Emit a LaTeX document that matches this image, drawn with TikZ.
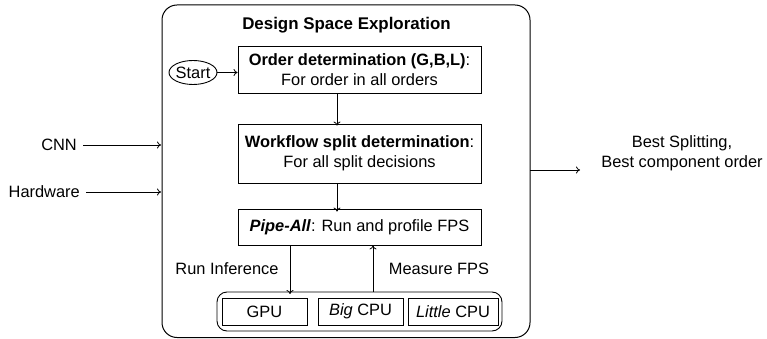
\documentclass[tikz,border=0pt]{standalone}
\usepackage{fontspec}
\setmainfont{Liberation Sans}
\usetikzlibrary{shapes.geometric,arrows.meta}
\begin{document}
\begin{tikzpicture}[x=1pt,y=-1pt,
  every node/.style={font=\fontsize{16.4}{20.5}\selectfont, inner sep=0pt},
  stepbox/.style={draw, line width=0.9pt, align=center},
  conn/.style={line width=0.8pt, -{To[length=4pt,width=7pt]}},
  lbl/.style={align=center}]
\useasboundingbox (0,0) rectangle (767,339);
% outer exploration frame
\draw[line width=1pt, rounded corners=15pt] (162,5) rectangle (530,337.5);
\coordinate (dseW) at (162,0);
\coordinate (dseE) at (530,0);
\node[font=\fontsize{16.9}{20.5}\selectfont\bfseries] (title) at (346.5,25) {Design Space Exploration};

% main steps
\node[stepbox, minimum width=243pt, minimum height=47pt] (order) at (359.5,69.5)
  {\textbf{Order determination (G,B,L)}:\\For order in all orders};
\node[stepbox, minimum width=243pt, minimum height=59pt] (flow) at (359.5,153.5)
  {\textbf{Workflow split determination}:\\For all split decisions};
\node[stepbox, minimum width=243pt, minimum height=36pt] (pipe) at (359.5,227)
  {\textbf{\textit{Pipe-All}}: Run and profile FPS};
\node[draw, ellipse, line width=0.9pt, minimum width=48pt, minimum height=24pt,
  inner xsep=-4pt, inner ysep=-5pt] (start) at (193,72.5) {Start};

% processing units
\draw[line width=0.9pt, rounded corners=10pt] (217,292) rectangle (502,331);
\coordinate (devtop) at (0,292);
\node[stepbox, minimum width=85pt, minimum height=27pt] (gpu) at (264.5,311.5) {GPU};
\node[stepbox, minimum width=85pt, minimum height=27pt] (big) at (360.5,311.5) {\textit{Big} CPU};
\node[stepbox, minimum width=90pt, minimum height=27pt] (little) at (453,311.5) {\textit{Little} CPU};

% flow arrows
\coordinate (ax) at (337,0);
\coordinate (runx) at (290,0);
\coordinate (measx) at (373,0);
\draw[conn] (start.east) -- (order.west |- start.east);
\draw[conn] (order.south -| ax) -- ([yshift=-2pt]flow.north -| ax);
\draw[conn] (flow.south -| ax) -- ([yshift=-3pt]pipe.north -| ax);
\draw[conn] (pipe.south -| runx) -- ([yshift=-2pt]devtop -| runx);
\draw[conn] (devtop -| measx) -- (pipe.south -| measx);
\node[lbl] (runlbl) at (227,269) {Run Inference};
\node[lbl] (measlbl) at (439,269) {Measure FPS};

% inputs and outputs
\node[anchor=east] (cnn) at (77,145) {CNN};
\node[anchor=east] (hw) at (80,192) {Hardware};
\draw[conn] ([xshift=6pt]cnn.east) -- ([xshift=-1pt]cnn.east -| dseW);
\draw[conn] ([xshift=6pt]hw.east) -- ([xshift=-1pt]hw.east -| dseW);
\coordinate (outend) at (580,170);
\draw[conn] (outend -| dseE) -- (outend);
\node[lbl] (best) at (682,153.5) {Best Splitting,\\Best component order};
\end{tikzpicture}
\end{document}
